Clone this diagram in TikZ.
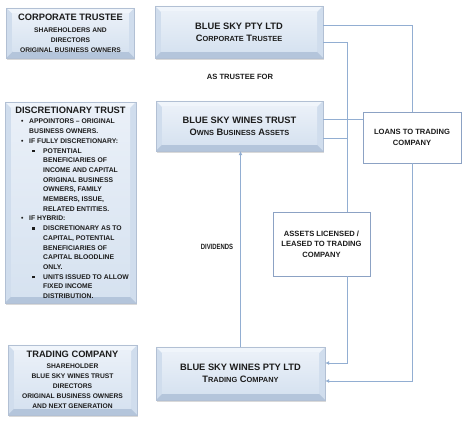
\documentclass[tikz,border=0pt]{standalone}
\usepackage{fontspec}
\setmainfont{Liberation Sans}
\usetikzlibrary{arrows.meta}
\usetikzlibrary{shadows}
\usetikzlibrary{positioning}

\definecolor{connline}{RGB}{146,174,210}
\definecolor{bevelline}{RGB}{178,192,212}
\definecolor{bevelside}{RGB}{208,221,237}
\definecolor{beveltop}{RGB}{240,245,251}
\definecolor{bevelbottom}{RGB}{180,197,219}
\definecolor{facetop}{RGB}{234,240,248}
\definecolor{facebottom}{RGB}{214,226,240}
\definecolor{plainline}{RGB}{140,162,196}
\definecolor{inktext}{RGB}{28,28,28}

\newcommand{\fsc}[2]{#1{\fontsize{7.4pt}{12pt}\selectfont#2}}
\newcommand{\bigline}{\fontsize{9.3pt}{12pt}\selectfont}
\newcommand{\smallline}{\fontsize{6.7pt}{10pt}\selectfont}
\newcommand{\lvlone}{\makebox[8pt][l]{\textbullet}}
\newcommand{\lvltwo}{\hspace*{11pt}\makebox[11pt][l]{\rule[0.8pt]{2.6pt}{2.6pt}}}

\tikzset{
  bevelbox/.style={draw=bevelline, line width=0.4pt, fill=bevelside, inner sep=0pt,
    align=center, font=\bfseries, text=inktext,
    drop shadow={shadow xshift=0.8pt, shadow yshift=-1.6pt, opacity=0.3},
    path picture={
      \fill[beveltop] (path picture bounding box.north west) -- (path picture bounding box.north east)
        -- ([shift={(-6pt,-6pt)}]path picture bounding box.north east)
        -- ([shift={(6pt,-6pt)}]path picture bounding box.north west) -- cycle;
      \fill[bevelbottom] (path picture bounding box.south west) -- (path picture bounding box.south east)
        -- ([shift={(-6pt,6pt)}]path picture bounding box.south east)
        -- ([shift={(6pt,6pt)}]path picture bounding box.south west) -- cycle;
      \shade[top color=facetop, bottom color=facebottom]
        ([shift={(6pt,6pt)}]path picture bounding box.south west)
        rectangle ([shift={(-6pt,-6pt)}]path picture bounding box.north east);
    }},
  plainbox/.style={draw=plainline, line width=0.6pt, fill=white, inner sep=0pt, align=center,
    font=\bfseries\fontsize{7.6pt}{10.4pt}\selectfont, text=inktext,
    drop shadow={shadow xshift=0.8pt, shadow yshift=-1.2pt, opacity=0.2}},
  label text/.style={font=\bfseries\fontsize{7.6pt}{10pt}\selectfont, text=inktext, inner sep=0pt},
}

\begin{document}
\begin{tikzpicture}[x=1pt,y=-1pt,>={Latex[length=4pt,width=4pt]}]
    \useasboundingbox (0,0) rectangle (474,427);

    \node[bevelbox, minimum width=128pt, minimum height=50pt, font=\bfseries\smallline] (corptrustee) at (70.5,33)
      {{\bigline CORPORATE TRUSTEE}\\[2pt] SHAREHOLDERS AND\\ DIRECTORS\\ ORIGINAL BUSINESS OWNERS};
    \node[bevelbox, minimum width=168pt, minimum height=52pt, font=\bfseries\bigline] (blueskypty) at (239,32)
      {BLUE SKY PTY LTD\\ \fsc{C}{ORPORATE} \fsc{T}{RUSTEE}};
    \node[label text] (astrustee) at (240,77) {AS TRUSTEE FOR};

    \node[bevelbox, minimum width=131pt, minimum height=201pt] (disctrust) at (70.5,202.5) {};
    \node[inner sep=0pt, text=inktext, font=\bfseries\bigline] (disctitle) at (70.5,110.7) {DISCRETIONARY TRUST};
    \node[inner sep=0pt, text=inktext, align=left, anchor=north west,
          font=\bfseries\fontsize{6.8pt}{9.7pt}\selectfont] (disclist) at (21,119)
      {\lvlone APPOINTORS -- ORIGINAL\\
       \hspace*{8pt}BUSINESS OWNERS.\\
       \lvlone IF FULLY DISCRETIONARY:\\
       \lvltwo POTENTIAL\\
       \hspace*{22pt}BENEFICIARIES OF\\
       \hspace*{22pt}INCOME AND CAPITAL\\
       \hspace*{22pt}ORIGINAL BUSINESS\\
       \hspace*{22pt}OWNERS, FAMILY\\
       \hspace*{22pt}MEMBERS, ISSUE,\\
       \hspace*{22pt}RELATED ENTITIES.\\
       \lvlone IF HYBRID:\\
       \lvltwo DISCRETIONARY AS TO\\
       \hspace*{22pt}CAPITAL, POTENTIAL\\
       \hspace*{22pt}BENEFICIARIES OF\\
       \hspace*{22pt}CAPITAL BLOODLINE\\
       \hspace*{22pt}ONLY.\\
       \lvltwo UNITS ISSUED TO ALLOW\\
       \hspace*{22pt}FIXED INCOME\\
       \hspace*{22pt}DISTRIBUTION.};

    \node[bevelbox, minimum width=167pt, minimum height=50pt, font=\bfseries\bigline] (blueskytrust) at (239.5,126)
      {BLUE SKY WINES TRUST\\ \fsc{O}{WNS} \fsc{B}{USINESS} \fsc{A}{SSETS}};
    \node[plainbox, minimum width=98pt, minimum height=51pt] (loans) at (412,137.5)
      {LOANS TO TRADING\\ COMPANY};
    \node[plainbox, minimum width=97pt, minimum height=64pt] (assets) at (321.5,244)
      {ASSETS LICENSED /\\ LEASED TO TRADING\\ COMPANY};
    \node[label text] (dividends) at (217,247) {\scalebox{0.78}[1]{DIVIDENDS}};

    \node[bevelbox, minimum width=129pt, minimum height=70pt, font=\bfseries\smallline] (tradingco) at (72.5,380)
      {{\bigline TRADING COMPANY}\\[1pt] SHAREHOLDER\\ BLUE SKY WINES TRUST\\ DIRECTORS\\
       ORIGINAL BUSINESS OWNERS\\ AND NEXT GENERATION};
    \node[bevelbox, minimum width=169pt, minimum height=53pt, font=\bfseries\bigline] (blueskywines) at (240.5,373.5)
      {BLUE SKY WINES PTY LTD\\ \fsc{T}{RADING} \fsc{C}{OMPANY}};

    \coordinate (assetsline) at ([xshift=25.5pt]assets.north);
    \coordinate (trusthigh) at ([yshift=7pt]blueskytrust.east);
    \coordinate (trustlow) at ([yshift=-12pt]blueskytrust.east);

    \draw[connline, line width=0.7pt] ([yshift=7pt]blueskypty.east) -| (loans.north);
    \draw[connline, line width=0.7pt, ->] (loans.south) |- ([yshift=-7.5pt]blueskywines.east);
    \draw[connline, line width=0.7pt] ([yshift=-10pt]blueskypty.east) -| (assetsline);
    \draw[connline, line width=0.7pt, ->] ([xshift=25.5pt]assets.south) |- ([yshift=10.5pt]blueskywines.east);
    \draw[connline, line width=0.7pt] (trusthigh) -- (trusthigh -| loans.west);
    \draw[connline, line width=0.7pt] (trustlow) -- (trustlow -| assetsline);
    \draw[connline, line width=0.7pt, ->] (blueskywines.north) -- (blueskywines.north |- blueskytrust.south);
  \end{tikzpicture}
\end{document}
